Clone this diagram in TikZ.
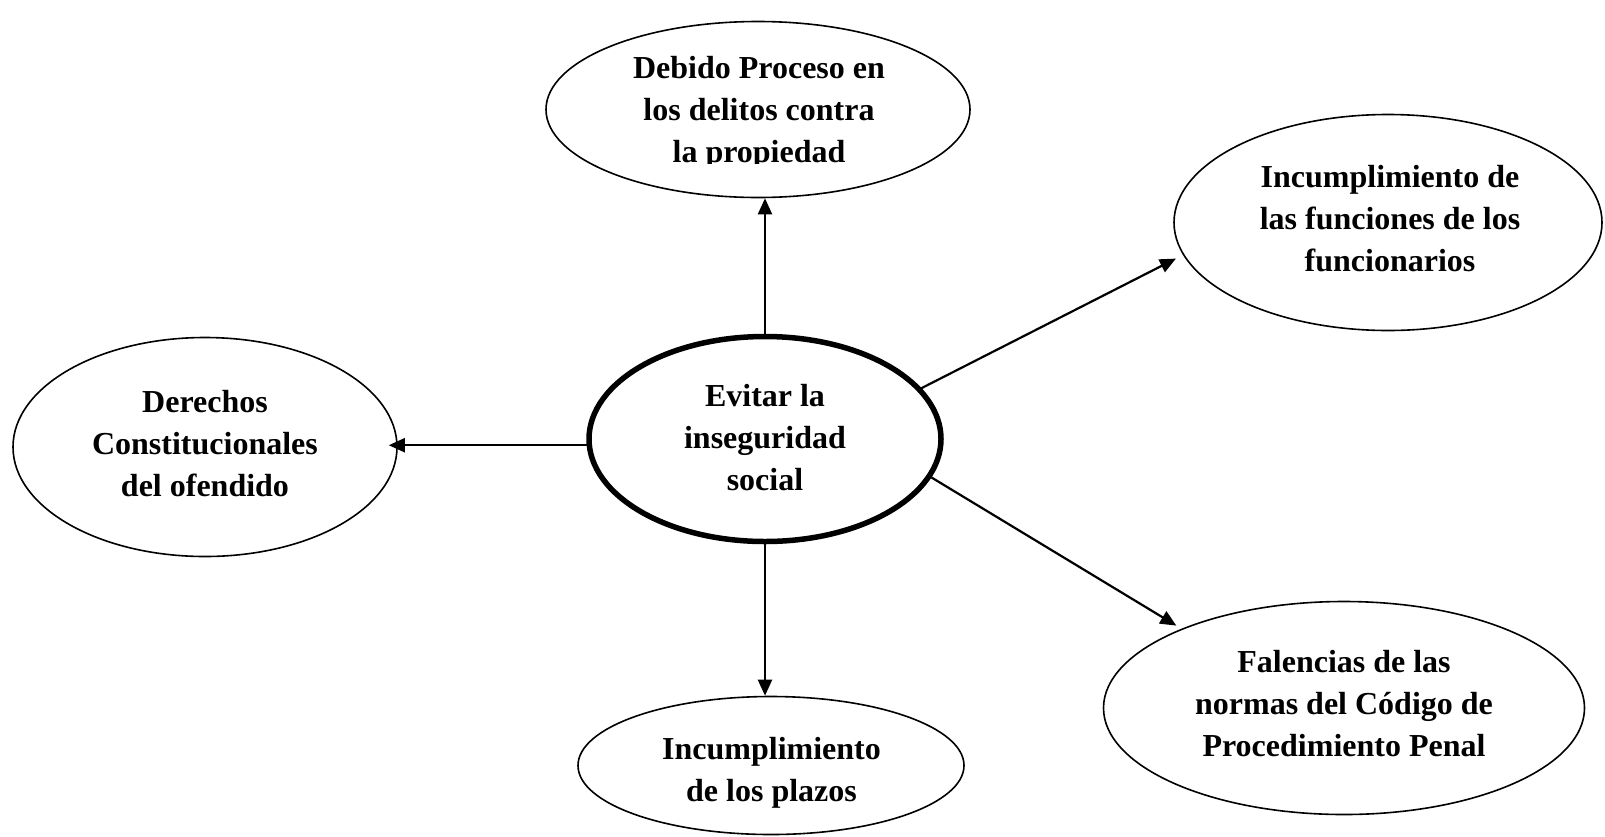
\documentclass[tikz,border=0pt]{standalone}
\usepackage{fontspec}
\setmainfont{Liberation Serif}
\usetikzlibrary{arrows.meta,shapes.geometric,calc}
\begin{document}
\begin{tikzpicture}[x=1pt,y=-1pt,
  oval/.style={ellipse,draw,line width=1.6pt,inner sep=0pt},
  mainoval/.style={ellipse,draw,line width=5.5pt,inner sep=0pt},
  lbl/.style={align=center,font=\fontsize{32}{42}\selectfont\bfseries,inner sep=0pt},
  arr/.style={-{Triangle[length=16pt,width=14pt]},line width=2.2pt}]
\useasboundingbox (0,0) rectangle (1605,836);
% ellipses
\node[mainoval,minimum width=352pt,minimum height=205pt] (c) at (765,439) {};
\node[oval,minimum width=424pt,minimum height=176pt] (t) at (758,109.5) {};
\node[oval,minimum width=428pt,minimum height=216pt] (rt) at (1388,222.5) {};
\node[oval,minimum width=384pt,minimum height=219pt] (l) at (205,447) {};
\node[oval,minimum width=386pt,minimum height=138pt] (b) at (771,765.5) {};
\node[oval,minimum width=481pt,minimum height=213pt] (br) at (1344,708) {};
% texts
\node[lbl] (cT) at (765,437.5) {Evitar la\\inseguridad\\social};
\begin{scope}
\clip (0,0) rectangle (1605,163);
\node[lbl] (tT) at (759,112.5) {Debido Proceso en\\los delitos contra\\la propiedad};
\end{scope}
\node[lbl] (rtT) at (1390,219) {Incumplimiento de\\las funciones de los\\funcionarios};
\node[lbl] (lT) at (205,443.5) {Derechos\\Constitucionales\\del ofendido};
\node[lbl] (bT) at (771.5,773) {Incumplimiento\\de los plazos};
\node[lbl] (brT) at (1344,704) {Falencias de las\\normas del Código de\\Procedimiento Penal};
% arrows
\draw[arr] (c.north) -- (c.north |- t.south);
\draw[arr,shorten >=-9pt] (c.182) -- (c.182 -| l.east);
\draw[arr] (c.south) -- (c.south |- b.north);
\draw[arr,shorten >=8pt] (c.18.8) -- (rt.189.2);
\draw[arr,shorten >=6pt] (c.-13.4) -- (br.154.3);
\end{tikzpicture}
\end{document}
